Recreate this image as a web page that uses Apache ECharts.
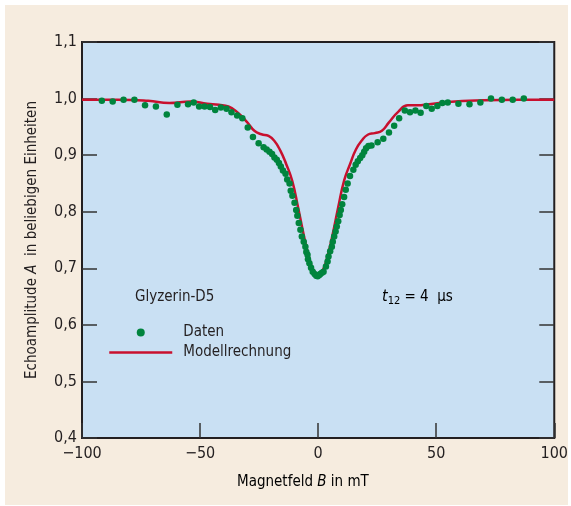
<!DOCTYPE html>
<html>
<head>
<meta charset="utf-8">
<script src="https://cdn.jsdelivr.net/npm/echarts@6/dist/echarts.min.js"></script>
<style>
html,body{margin:0;padding:0;background:#fff;}
#c{width:571px;height:506px;}
</style>
</head>
<body>
<div id="c"></div>
<script>
// Measured data (Magnetfeld B in mT, Echoamplitude A)
const dataB = [-91.6,-87,-82.4,-77.8,-73.3,-68.7,-64.1,-59.6,-55.1,-52.7,-50.4,-48.1,-45.8,-43.6,-41.2,-38.8,-36.7,-34.3,-32.1,-29.8,-27.6,-25.2,-23.1,-21.8,-20.6,-19.5,-18.5,-17.5,-16.6,-15.8,-14.9,-13.8,-13.1,-12.1,-11.6,-10.9,-10.0,-9.3,-8.8,-8.2,-7.5,-6.9,-6.1,-5.4,-5.0,-4.5,-4.3,-3.7,-3.0,-2.3,-1.5,-0.8,-0.2,0.5,0.9,1.6,2.3,3.3,4.0,4.4,5.1,5.8,6.2,6.8,7.4,7.9,8.5,9.1,9.6,10.2,11.0,11.7,12.5,13.5,14.9,15.9,16.8,17.8,18.7,19.5,20.3,21.3,22.6,25.2,27.6,30.0,32.2,34.3,36.7,38.9,41.2,43.4,45.8,48.1,50.5,52.6,54.9,59.4,64.1,68.7,73.2,77.8,82.4,87.1];
const dataA = [0.996,0.995,0.998,0.998,0.988,0.986,0.972,0.989,0.990,0.993,0.986,0.986,0.985,0.980,0.984,0.982,0.976,0.970,0.965,0.949,0.932,0.921,0.914,0.910,0.906,0.902,0.896,0.892,0.886,0.880,0.873,0.867,0.857,0.850,0.837,0.828,0.816,0.803,0.793,0.780,0.768,0.756,0.747,0.738,0.729,0.724,0.716,0.709,0.701,0.694,0.690,0.687,0.686,0.688,0.690,0.692,0.694,0.703,0.712,0.721,0.730,0.738,0.747,0.756,0.765,0.774,0.783,0.794,0.803,0.813,0.826,0.839,0.850,0.863,0.874,0.883,0.889,0.895,0.900,0.906,0.912,0.916,0.917,0.923,0.929,0.940,0.952,0.965,0.979,0.976,0.979,0.975,0.987,0.982,0.987,0.992,0.993,0.991,0.990,0.993,1.000,0.998,0.998,1.000];

// Model curve (Modellrechnung)
const modelB = [-100,-85,-72,-63,-54,-47,-42,-38,-34,-30,-27,-24,-21,-18.5,-16,-13.5,-11,-8.5,-6,-4,-2,0,2,4,6,8.5,11,13.5,16,18.5,21,24,27,30,34,38,42,47,55,70,85,100];
const modelA = [0.998,0.998,0.996,0.992,0.995,0.991,0.989,0.986,0.975,0.958,0.943,0.937,0.934,0.925,0.908,0.884,0.855,0.808,0.757,0.722,0.697,0.690,0.697,0.722,0.757,0.808,0.855,0.884,0.910,0.926,0.936,0.939,0.943,0.958,0.977,0.988,0.988,0.990,0.994,0.997,0.998,0.998];

const xTicks = [-100,-50,0,50,100];
const yTicks = [0.4,0.5,0.6,0.7,0.8,0.9,1.0,1.1];

const FONT = "'Liberation Sans Narrow','DejaVu Sans Condensed','Open Sans',sans-serif";
const INK = '#231f20';
const GREEN = '#00843d';
const RED = '#c8102e';

const chart = echarts.init(document.getElementById('c'), null, {renderer:'canvas'});
const pts = dataB.map((b,i)=>[b,dataA[i]]);
const mdl = modelB.map((b,i)=>[b,modelA[i]]);

chart.setOption({
  backgroundColor:'#ffffff',
  animation:false,
  textStyle:{fontFamily:FONT},
  graphic:[
    {type:'rect', z:-10, shape:{x:5,y:5,width:563,height:500}, style:{fill:'#f6ecdf'}},
    {type:'text', left:135, top:290, style:{text:'Glyzerin-D5', font:'15px '+FONT, fill:INK}},
    {type:'text', left:382, top:289, style:{
      text:'{i|t}{s|12}{n| = 4  μs}',
      rich:{
        i:{fontFamily:FONT,fontSize:16,fontStyle:'italic',color:INK},
        s:{fontFamily:FONT,fontSize:11,color:INK,padding:[8,0,0,0]},
        n:{fontFamily:FONT,fontSize:15,color:INK}
      }}},
    {type:'text', left:237, top:475, style:{
      text:'{n|Magnetfeld }{i|B}{n| in mT}',
      rich:{
        n:{fontFamily:FONT,fontSize:15,color:INK},
        i:{fontFamily:FONT,fontSize:15,fontStyle:'italic',color:INK}
      }}}
  ],
  grid:{left:82, top:42, width:475, height:396, show:true, backgroundColor:'#c9e0f3', borderColor:INK, borderWidth:2, containLabel:false},
  legend:{
    left:108, top:325, orient:'vertical', padding:0, itemWidth:63, itemHeight:8, itemGap:5,
    textStyle:{fontFamily:FONT, fontSize:15, color:INK, padding:[0,0,0,6]},
    data:[{name:'Daten', icon:'circle'},
          {name:'Modellrechnung', itemStyle:{opacity:0}, lineStyle:{color:RED,width:2.5}}]
  },
  xAxis:[{
    type:'value', min:-100, max:100, interval:50,
    axisLine:{show:false, onZero:false},
    axisTick:{show:true, inside:true, length:15, lineStyle:{color:'#333',width:1.5}},
    splitLine:{show:false},
    axisLabel:{fontFamily:FONT, fontSize:16, color:INK, margin:8,
      formatter:v=>String(v).replace('-','\u2212')}
  }],
  yAxis:[{
    type:'value', min:0.4, max:1.1, interval:0.1, position:'left',
    name:'{n|Echoamplitude }{i|A}{n|  in beliebigen Einheiten}',
    nameLocation:'middle', nameGap:42, nameRotate:90,
    nameTextStyle:{rich:{
      n:{fontFamily:FONT,fontSize:15,color:INK},
      i:{fontFamily:FONT,fontSize:15,fontStyle:'italic',color:INK}}},
    axisLine:{show:false, onZero:false},
    axisTick:{show:true, inside:true, length:15, lineStyle:{color:'#333',width:1.5}},
    splitLine:{show:false},
    axisLabel:{fontFamily:FONT, fontSize:16, color:INK, margin:5,
      formatter:v=>v.toFixed(1).replace('.',',')}
  },{
    type:'value', min:0.4, max:1.1, interval:0.1, position:'right',
    axisLine:{show:false, onZero:false}, axisLabel:{show:false}, splitLine:{show:false},
    axisTick:{show:true, inside:true, length:15, lineStyle:{color:'#333',width:1.5}}
  }],
  series:[
    {name:'Modellrechnung', type:'line', data:mdl, showSymbol:false, symbol:'none',
     smooth:0.5, z:2,
     lineStyle:{color:RED, width:2.5}, itemStyle:{color:RED}},
    {name:'Daten', type:'scatter', data:pts, symbol:'circle', symbolSize:6.5, z:3,
     itemStyle:{color:GREEN, opacity:1}}
  ]
});
</script>
</body>
</html>
